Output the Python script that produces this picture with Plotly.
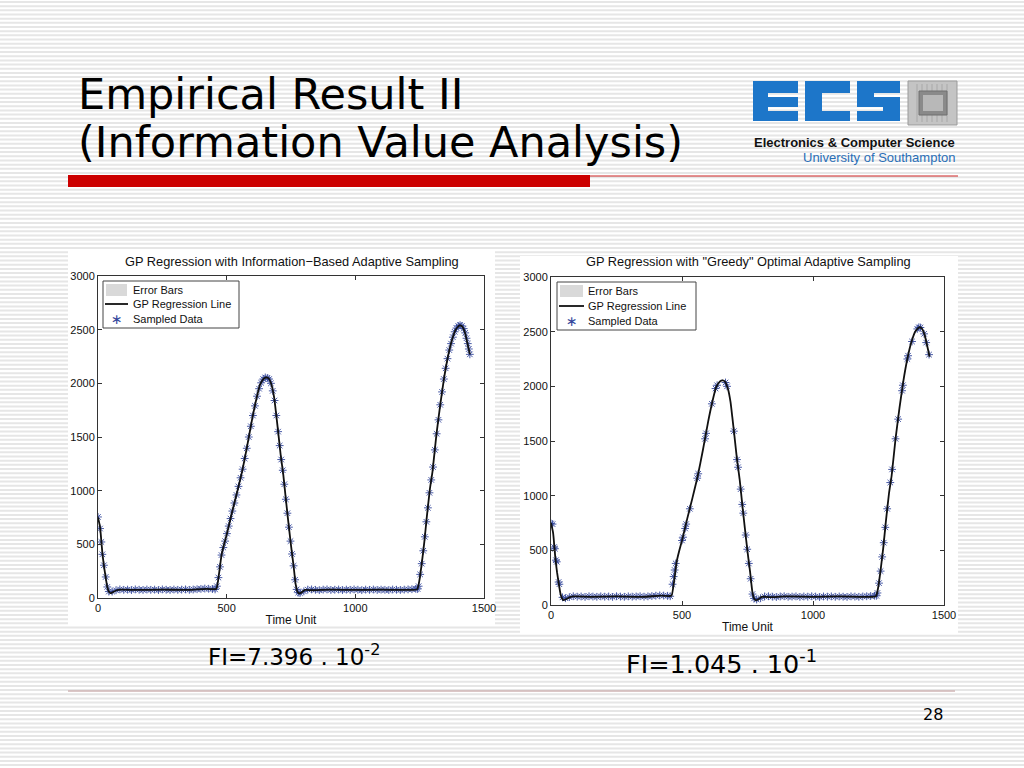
import plotly.graph_objects as go

# ---------------- data ----------------
curve_x = [0, 8, 13, 17, 23, 30, 36, 42, 48, 55, 70, 90, 150, 250, 350, 420, 450, 460, 470, 480, 490, 500,
           520, 540, 560, 580, 600, 615, 630, 645, 655, 665, 675, 685, 692, 700, 710, 720, 730, 740, 750,
           760, 768, 775, 782, 790, 805, 830, 900, 1000, 1100, 1200, 1240, 1248, 1258, 1268, 1278, 1290,
           1300, 1315, 1330, 1345, 1360, 1375, 1390, 1405, 1415, 1425, 1435, 1445]
curve_y = [750, 660, 530, 420, 300, 190, 105, 60, 45, 50, 70, 78, 75, 78, 75, 85, 82, 85, 220, 400, 500, 590,
           790, 980, 1180, 1420, 1680, 1850, 1990, 2045, 2055, 2040, 1980, 1860, 1720, 1550, 1330, 1150, 920,
           700, 490, 300, 130, 60, 42, 50, 75, 72, 78, 75, 78, 75, 80, 150, 320, 520, 760, 1020, 1180, 1520,
           1800, 2050, 2250, 2400, 2500, 2540, 2530, 2480, 2380, 2270]

# Information-based sampling (left)
info_x = [0, 8, 13, 17, 23, 30, 36, 42,
          55, 70, 85, 100, 115, 130, 145, 160, 175, 190, 205, 220, 235, 250, 265, 280, 295, 310, 325, 340,
          355, 370, 385, 400, 415, 430, 445, 455,
          462, 468, 474, 480, 487, 494, 501, 508, 515, 522, 530, 538, 546, 554, 562, 570, 578, 586, 594,
          602, 610, 618, 626, 634, 642, 650, 658,
          665, 672, 679, 686, 693, 700, 706, 712, 718, 724, 730, 736, 742, 748, 754, 760, 766, 772, 778,
          785, 800, 815, 830, 845, 860, 875, 890, 905, 920, 935, 950, 965, 980, 995, 1010, 1025, 1040, 1055,
          1070, 1085, 1100, 1115, 1130, 1145, 1160, 1175, 1190, 1205, 1220, 1235, 1242,
          1246, 1252, 1258, 1264, 1270, 1276, 1282, 1288, 1295, 1302, 1309, 1316, 1323, 1330, 1337, 1344,
          1351, 1358, 1365, 1372, 1379, 1386, 1393, 1400, 1407, 1414, 1421, 1427, 1432, 1437, 1441, 1445]
info_y = [755, 647, 522, 407, 305, 196, 103, 60,
          60, 72, 80, 76, 78, 74, 80, 77, 75, 79, 76, 78, 74, 80, 77, 75, 79, 76, 78, 80,
          76, 79, 82, 85, 88, 86, 84, 80,
          110, 190, 290, 400, 470, 530, 600, 670, 740, 810, 885, 960, 1040, 1120, 1200, 1300, 1395, 1500, 1600,
          1700, 1790, 1880, 1950, 2005, 2040, 2055, 2050,
          2040, 2000, 1930, 1840, 1700, 1550, 1420, 1290, 1190, 1060, 920, 790, 660, 530, 410, 300, 170, 80, 50,
          45, 62, 78, 80, 76, 73, 78, 80, 75, 77, 79, 74, 78, 76, 80, 77, 73, 78, 76,
          79, 75, 78, 76, 74, 79, 77, 75, 78, 80, 82, 85, 84,
          110, 220, 320, 440, 570, 710, 840, 980, 1100, 1220, 1380, 1530, 1660, 1800, 1920, 2040,
          2140, 2230, 2310, 2370, 2430, 2480, 2515, 2535, 2542, 2535, 2510, 2470, 2420, 2370, 2320, 2270]

# "Greedy" optimal sampling (right)
greedy_x = [0, 6, 12, 15, 19, 22, 29, 32, 44,
            55, 70, 85, 100, 115, 130, 145, 160, 175, 190, 205, 220, 235, 250, 265, 280, 295, 310, 325, 340,
            355, 370, 385, 400, 415, 430, 445, 455,
            464, 468, 472, 476, 500, 504, 512, 516, 530, 558, 562, 588, 592, 614, 628, 634,
            666, 672, 698, 710, 714, 724, 730, 734, 743, 749, 755, 762, 769, 775,
            785, 800, 815, 830, 845, 860, 875, 890, 905, 920, 935, 950, 965, 980, 995, 1010, 1025, 1040, 1055,
            1070, 1085, 1100, 1115, 1130, 1145, 1160, 1175, 1190, 1205, 1220, 1235, 1242,
            1246, 1252, 1258, 1264, 1270, 1276, 1283, 1295, 1302, 1315, 1325, 1340, 1343, 1360, 1363, 1378,
            1398, 1404, 1410, 1424, 1432, 1443]
greedy_y = [745, 740, 530, 515, 410, 395, 210, 190, 70,
            62, 72, 80, 76, 78, 74, 80, 77, 75, 79, 76, 78, 74, 80, 77, 75, 79, 76, 78, 80,
            76, 79, 82, 85, 88, 86, 84, 80,
            190, 260, 320, 380, 590, 620, 700, 740, 880, 1160, 1200, 1520, 1570, 1840, 1980, 2010,
            2035, 2000, 1590, 1330, 1260, 1060, 920, 840, 640, 510, 380, 240, 100, 60,
            50, 62, 78, 80, 76, 73, 78, 80, 75, 77, 79, 74, 78, 76, 80, 77, 73, 78, 76,
            79, 75, 78, 76, 74, 79, 77, 75, 78, 80, 82, 85, 84,
            110, 200, 310, 440, 570, 710, 880, 1120, 1240, 1520, 1700, 1960, 2010, 2250, 2280, 2410,
            2525, 2540, 2538, 2480, 2400, 2290]

x_ticks = [0, 500, 1000, 1500]
y_ticks = [0, 500, 1000, 1500, 2000, 2500, 3000]

titles = ["GP Regression with Information\u2212Based Adaptive Sampling",
          "GP Regression with \"Greedy\" Optimal Adaptive Sampling"]
fi_texts = ["FI=7.396 . 10<sup>-2</sup>", "FI=1.045 . 10<sup>-1</sup>"]
legend_names = ["Error Bars", "GP Regression Line", "Sampled Data"]

W, H = 1024, 768
MARK = "#34479c"


def px(x):
    return x / W


def py(y):
    return 1 - y / H


# ---------------- figure ----------------
fig = go.Figure()

panels = [
    dict(xa="x", ya="y", sx=info_x, sy=info_y),
    dict(xa="x2", ya="y2", sx=greedy_x, sy=greedy_y),
]
for p in panels:
    fig.add_trace(go.Scatter(x=p["sx"], y=p["sy"], name=legend_names[2], mode="markers",
                             marker=dict(symbol="asterisk-open", size=6.5, color=MARK,
                                         line=dict(color=MARK, width=0.9)),
                             xaxis=p["xa"], yaxis=p["ya"], showlegend=False))
    fig.add_trace(go.Scatter(x=curve_x, y=curve_y, name=legend_names[1], mode="lines",
                             line=dict(color="#111111", width=1.8, shape="spline", smoothing=0.5),
                             xaxis=p["xa"], yaxis=p["ya"], showlegend=False))


def rect(x0, y0, x1, y1, fill, line=None, layer="above"):
    return dict(type="rect", xref="paper", yref="paper", x0=px(x0), x1=px(x1), y0=py(y1), y1=py(y0),
                fillcolor=fill, line=line or dict(width=0), layer=layer)


def hline(x0, x1, y, color, width):
    return dict(type="line", xref="paper", yref="paper", x0=px(x0), x1=px(x1), y0=py(y), y1=py(y),
                line=dict(color=color, width=width), layer="above")


shapes = []
# striped slide background
i = 0
while i * 4.17 < H:
    y = i * 4.17 + 1
    shapes.append(rect(0, y, W, y + 2, "#e6e6e6", layer="below"))
    i += 1
# white figure panels
for (x0, y0, x1, y1) in [(68, 251, 495, 626), (520, 256, 958, 634)]:
    shapes.append(rect(x0, y0, x1, y1, "white", layer="below"))
# red title bar and rules
shapes.append(rect(68, 175, 590, 187, "#cc0000"))
shapes.append(hline(590, 958, 176, "#cc2222", 1))
shapes.append(hline(68, 955, 691, "#cfb5b5", 1.5))

# ECS logo blocks
blue = "#1d76c9"
logo_rects = [
    # E
    (753, 81, 798, 93), (753, 93, 768, 121), (768, 97, 798, 107), (768, 111, 798, 121),
    # C
    (805, 81, 850, 93), (805, 93, 822, 111), (805, 111, 850, 121),
    # S
    (857, 81, 900, 93), (857, 93, 874, 97), (857, 97, 900, 107), (883, 107, 900, 111), (857, 111, 900, 121),
]
for r in logo_rects:
    shapes.append(rect(*r, blue))
# chip
shapes.append(rect(908, 81, 957, 125, "#c4c4c4", dict(color="#9a9a9a", width=1)))
for k in range(7):
    xx = 917 + k * 5
    shapes.append(dict(type="line", xref="paper", yref="paper", x0=px(xx), x1=px(xx), y0=py(84), y1=py(122),
                       line=dict(color="#a8a8a8", width=1), layer="above"))
shapes.append(rect(919, 91, 947, 115, "#8a8a8a", dict(color="#6e6e6e", width=1)))
shapes.append(rect(923, 95, 943, 111, "#b8b8b8"))

annotations = []


def text(t, x, y, size, family="Liberation Sans", color="#111111", xanchor="left", yanchor="middle"):
    annotations.append(dict(text=t, x=px(x), y=py(y), xref="paper", yref="paper", xanchor=xanchor,
                            yanchor=yanchor, showarrow=False, font=dict(family=family, size=size, color=color)))


# manual legends (MATLAB style)
legend_boxes = [
    dict(x0=103, y0=281, x1=239, y1=328, rows=[290, 304, 319], sx0=105, sx1=128, tx=131),
    dict(x0=557, y0=282, x1=696, y1=330, rows=[291, 306, 321], sx0=559, sx1=584, tx=586),
]
for lb in legend_boxes:
    shapes.append(rect(lb["x0"], lb["y0"], lb["x1"], lb["y1"], "white", dict(color="#444444", width=1)))
    r0, r1, r2 = lb["rows"]
    shapes.append(rect(lb["sx0"] + 1, r0 - 6, lb["sx1"] - 1, r0 + 6, "#d9d9d9"))
    shapes.append(hline(lb["sx0"], lb["sx1"], r1, "#111111", 1.8))
    text("\u2217", (lb["sx0"] + lb["sx1"]) / 2, r2, 14, family="DejaVu Sans", color=MARK, xanchor="center")
    for name, r in zip(legend_names, lb["rows"]):
        text(name, lb["tx"], r, 11)

title_font_size = 43
text("Empirical Result II", 76, 94, title_font_size, family="DejaVu Sans", color="#000000")
text("(Information Value Analysis)", 76, 142, title_font_size, family="DejaVu Sans", color="#000000")
text("<b>Electronics &amp; Computer Science</b>", 957, 142, 13, xanchor="right")
text("University of Southampton", 957, 157, 13, color="#2a6fb8", xanchor="right")
# chart titles
text(titles[0], 292, 262, 12.8, xanchor="center")
text(titles[1], 748, 262, 12.8, xanchor="center")
# FI values
text(fi_texts[0], 206, 655, 23, family="DejaVu Sans", color="#000000")
text(fi_texts[1], 624, 662, 25.5, family="DejaVu Sans", color="#000000")
# page number
text("28", 945, 714, 16, family="DejaVu Sans", color="#000000", xanchor="right")

axis_common = dict(showgrid=False, zeroline=False, showline=True, linecolor="#333333", linewidth=1,
                   mirror="ticks", ticks="inside", ticklen=4, tickcolor="#333333", automargin=False,
                   tickfont=dict(family="Liberation Sans", size=11, color="#111111"))
xtitle = dict(text="Time Unit", standoff=2, font=dict(family="Liberation Sans", size=12, color="#111111"))

fig.update_layout(
    width=W, height=H, autosize=False,
    margin=dict(l=0, r=0, t=0, b=0, pad=0, autoexpand=False),
    paper_bgcolor="white", plot_bgcolor="rgba(0,0,0,0)",
    showlegend=False,
    xaxis=dict(domain=[px(98), px(484)], range=[0, 1500], tickvals=x_ticks, anchor="y", title=xtitle,
               **axis_common),
    yaxis=dict(domain=[py(598), py(276)], range=[0, 3000], tickvals=y_ticks, anchor="x", **axis_common),
    xaxis2=dict(domain=[px(551), px(944)], range=[0, 1500], tickvals=x_ticks, anchor="y2", title=xtitle,
                **axis_common),
    yaxis2=dict(domain=[py(605), py(277)], range=[0, 3000], tickvals=y_ticks, anchor="x2", **axis_common),
    shapes=shapes,
    annotations=annotations,
)

fig.write_html(
    "out.html",
    config={"displayModeBar": False},
    post_script=(
        "document.documentElement.style.margin='0';document.documentElement.style.overflow='hidden';"
        "document.body.style.margin='0';document.body.style.padding='0';document.body.style.overflow='hidden';"
    ),
)
